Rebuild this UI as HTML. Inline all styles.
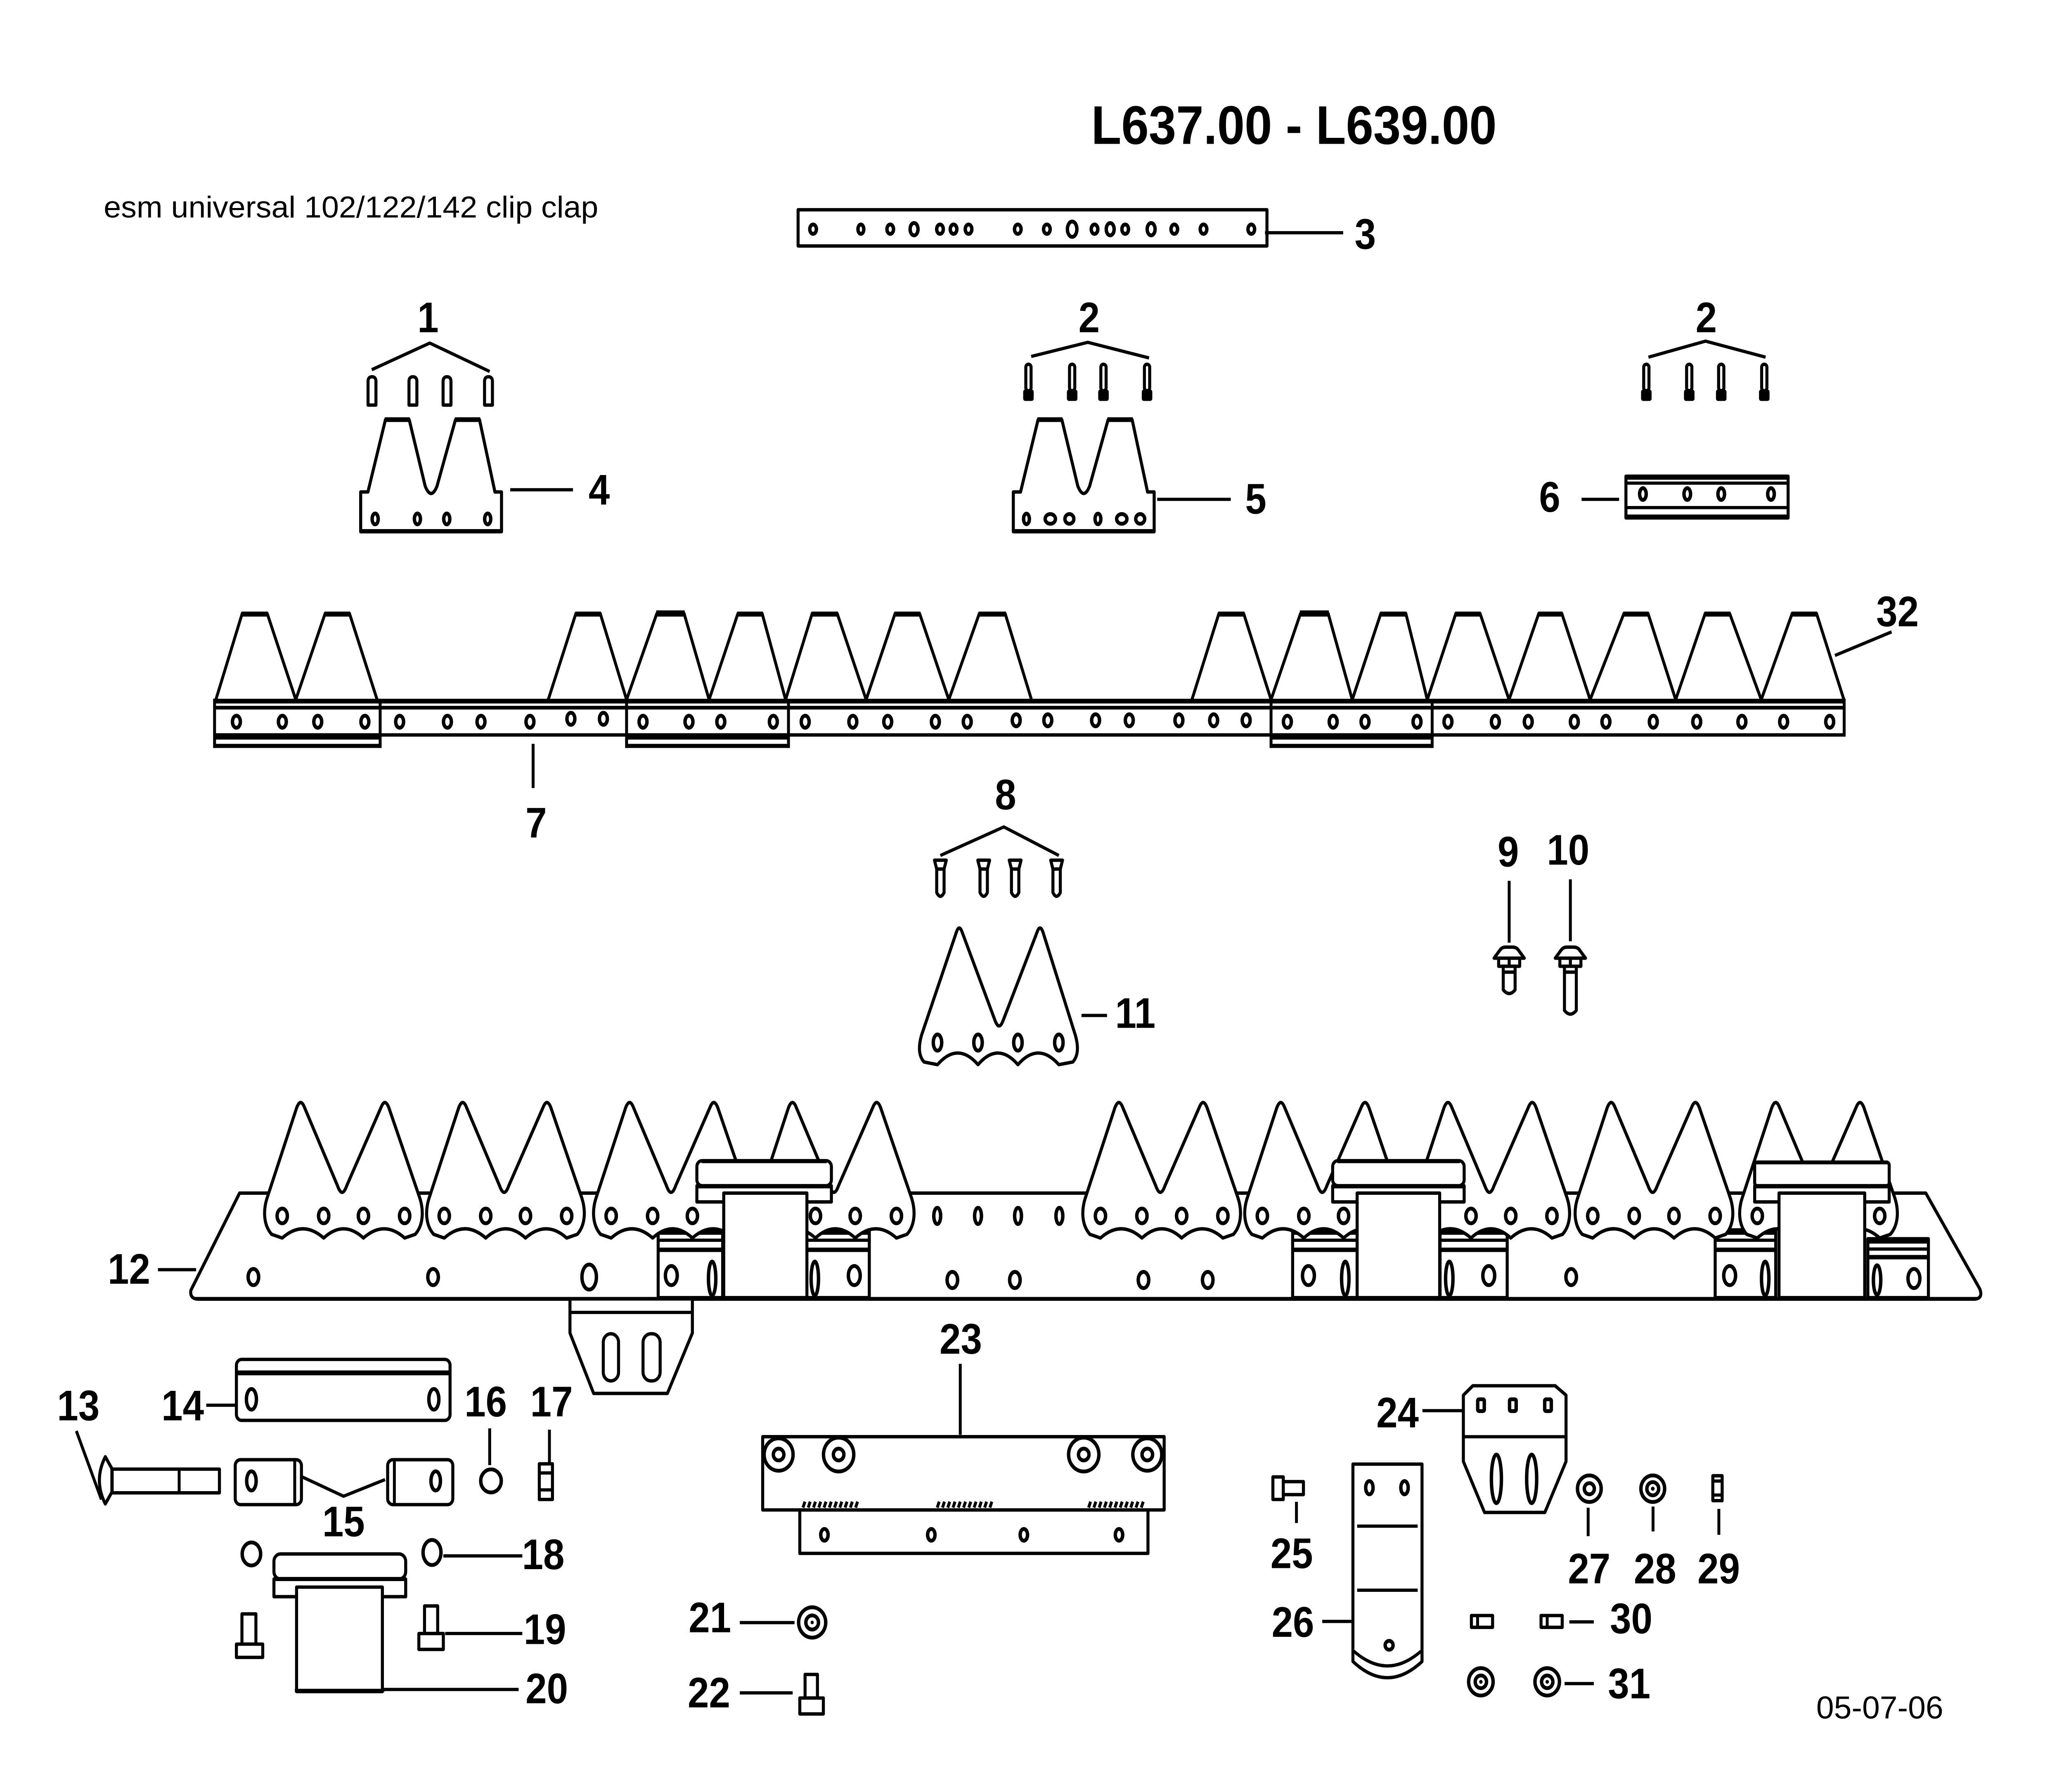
<!DOCTYPE html>
<html><head><meta charset="utf-8"><style>
html,body{margin:0;padding:0;background:#fff;width:100%;height:100%;overflow:hidden;}
svg{display:block;width:100vw;height:100vh;}
.l{fill:none;stroke:#000;stroke-width:2.2;stroke-linejoin:round}
.w{fill:#fff;stroke:#000;stroke-width:2.3;stroke-linejoin:round}
.h{fill:#fff;stroke:#000;stroke-width:2.6}
.t{font-family:"Liberation Sans",Arial,sans-serif;font-weight:bold;font-size:29px;text-anchor:middle;fill:#000}
</style></head><body>
<svg viewBox="0 0 1568 1216.6" preserveAspectRatio="none" xmlns="http://www.w3.org/2000/svg">
<rect width="1568" height="1216.6" fill="#fff"/>
<defs>
<g id="ks">
<path class="w" stroke-width="2.5" d="M3,812 L25,752 Q28,745 31,752 L56,805 Q59.5,814 63,805 L89,752 Q92,745 95,752 L118,812 C122,822 121,832 115,838 L107,840.5 Q91.4,828 75.7,840.5 Q60.6,828 45.5,840.5 Q29.7,828 14,840.5 L6,838 C0,832 -1,822 3,812 Z"/>
<ellipse class="h" stroke-width="3.3" cx="14" cy="825.5" rx="3.9" ry="5"/>
<ellipse class="h" stroke-width="3.3" cx="45.5" cy="825.5" rx="3.9" ry="5"/>
<ellipse class="h" stroke-width="3.3" cx="75.7" cy="825.5" rx="3.9" ry="5"/>
<ellipse class="h" stroke-width="3.3" cx="107" cy="825.5" rx="3.9" ry="5"/>
</g>
</defs>

<!-- Title texts -->
<text x="829" y="97.7" font-family="Liberation Sans, Arial, sans-serif" font-weight="bold" font-size="37" textLength="308" lengthAdjust="spacingAndGlyphs">L637.00 - L639.00</text>
<text x="78.8" y="147.6" font-family="Liberation Sans, Arial, sans-serif" font-size="20.5" textLength="375.7" lengthAdjust="spacingAndGlyphs">esm universal 102/122/142 clip clap</text>
<text x="1379.8" y="1166.7" font-family="Liberation Sans, Arial, sans-serif" font-size="21.5" textLength="96.5" lengthAdjust="spacingAndGlyphs">05-07-06</text>

<!-- Part 3 -->
<rect class="w" x="606.3" y="142.4" width="356.2" height="24.6" stroke-width="2.2"/>
<g class="h" stroke-width="1.9">
<ellipse cx="617.7" cy="155.6" rx="2.5" ry="3.2"/><ellipse cx="654" cy="155.6" rx="2.2" ry="3.2"/>
<ellipse cx="676.3" cy="155.6" rx="2.5" ry="3.2"/><ellipse cx="694.4" cy="155.6" rx="3" ry="4.2"/>
<ellipse cx="714.1" cy="155.6" rx="2.5" ry="3.2"/><ellipse cx="724.4" cy="155.6" rx="2.5" ry="3.2"/>
<ellipse cx="735.8" cy="155.6" rx="2.5" ry="3.2"/><ellipse cx="773.2" cy="155.6" rx="2.5" ry="3.2"/>
<ellipse cx="795.3" cy="155.6" rx="2.5" ry="3.2"/><ellipse cx="814.5" cy="155.6" rx="3.6" ry="5.2"/>
<ellipse cx="831.5" cy="155.6" rx="2.5" ry="3.2"/><ellipse cx="843.4" cy="155.6" rx="3" ry="4.2"/>
<ellipse cx="854.8" cy="155.6" rx="2.5" ry="3.2"/><ellipse cx="874.5" cy="155.6" rx="3" ry="4.2"/>
<ellipse cx="892.1" cy="155.6" rx="2.5" ry="3.2"/><ellipse cx="914.3" cy="155.6" rx="2.5" ry="3.2"/>
<ellipse cx="950.6" cy="155.6" rx="2.5" ry="3.2"/>
</g>
<line class="l" x1="961" y1="158" x2="1020.4" y2="158" stroke-width="2.4"/>
<text class="t" x="1037.2" y="168.9">3</text>

<!-- Part 1 -->
<text class="t" x="325.2" y="225.6">1</text>
<polyline class="l" points="282.4,251 326.5,232.9 372,252.2" stroke-width="2"/>
<g class="w" stroke-width="1.8">
<path d="M279.6,275 L279.6,259 Q279.6,255.8 282.6,255.8 Q285.6,255.8 285.6,259 L285.6,275 Z"/>
<path d="M310.7,275 L310.7,259 Q310.7,255.8 313.7,255.8 Q316.7,255.8 316.7,259 L316.7,275 Z"/>
<path d="M336.6,275 L336.6,259 Q336.6,255.8 339.6,255.8 Q342.6,255.8 342.6,259 L342.6,275 Z"/>
<path d="M368.1,275 L368.1,259 Q368.1,255.8 371.1,255.8 Q374.1,255.8 374.1,259 L374.1,275 Z"/>
</g>

<!-- Part 4 -->
<path class="w" stroke-width="2.2" d="M274,361 L274,334 L279.5,334 L292.8,285 L310.9,285 L323,330 Q327.5,340 332,330 L346,285 L364.3,285 L376,334 L381,334 L381,361 Z"/>
<rect x="292.3" y="283.3" width="19" height="3.2"/><rect x="345.5" y="283.3" width="19.3" height="3.2"/>
<rect x="274" y="359.2" width="107" height="2.6"/>
<g class="h" stroke-width="2">
<ellipse cx="285" cy="352.3" rx="2.3" ry="3.7"/><ellipse cx="317.1" cy="352.3" rx="2.3" ry="3.7"/>
<ellipse cx="339.4" cy="352.3" rx="2.3" ry="3.7"/><ellipse cx="370.5" cy="352.3" rx="2.3" ry="3.7"/>
</g>
<line class="l" x1="387.6" y1="332.5" x2="435.3" y2="332.5" stroke-width="2.4"/>
<text class="t" x="455.2" y="342.6">4</text>

<!-- Part 2 (middle) -->
<text class="t" x="827.4" y="225.6">2</text>
<polyline class="l" points="783.4,242 826.4,232.4 872.9,243" stroke-width="2"/>
<g>
<rect class="w" x="779.3" y="247.3" width="4" height="18" rx="2" stroke-width="1.6"/><rect x="777.3" y="264.5" width="8" height="7.7" rx="1.5"/>
<rect class="w" x="812.5" y="247.3" width="4" height="18" rx="2" stroke-width="1.6"/><rect x="810.5" y="264.5" width="8" height="7.7" rx="1.5"/>
<rect class="w" x="836.3" y="247.3" width="4" height="18" rx="2" stroke-width="1.6"/><rect x="834.3" y="264.5" width="8" height="7.7" rx="1.5"/>
<rect class="w" x="869.4" y="247.3" width="4" height="18" rx="2" stroke-width="1.6"/><rect x="867.4" y="264.5" width="8" height="7.7" rx="1.5"/>
</g>

<!-- Part 5 -->
<g transform="translate(495.8,0)">
<path class="w" stroke-width="2.2" d="M274,361 L274,334 L279.5,334 L292.8,285 L310.9,285 L323,330 Q327.5,340 332,330 L346,285 L364.3,285 L376,334 L381,334 L381,361 Z"/>
<rect x="292.3" y="283.3" width="19" height="3.2"/><rect x="345.5" y="283.3" width="19.3" height="3.2"/>
<rect x="274" y="359.2" width="107" height="2.6"/>
</g>
<g class="h" stroke-width="2">
<ellipse cx="779.8" cy="352.3" rx="2.2" ry="3.6"/><ellipse cx="797.9" cy="352.3" rx="3.9" ry="3.3"/><ellipse cx="812.4" cy="352.3" rx="3.4" ry="3.3"/>
<ellipse cx="834.1" cy="352.3" rx="2.2" ry="3.6"/><ellipse cx="852.2" cy="352.3" rx="3.9" ry="3.3"/><ellipse cx="866.2" cy="352.3" rx="3.4" ry="3.3"/>
</g>
<line class="l" x1="879.1" y1="339" x2="935" y2="339" stroke-width="2.4"/>
<text class="t" x="954" y="348.7">5</text>

<!-- Part 2 (right) -->
<text class="t" x="1296.2" y="225.6">2</text>
<polyline class="l" points="1252.3,242.5 1295.7,231.6 1341.3,242.5" stroke-width="2"/>
<g>
<rect class="w" x="1248.7" y="247.3" width="4" height="18" rx="2" stroke-width="1.6"/><rect x="1246.7" y="264.5" width="8" height="7.7" rx="1.5"/>
<rect class="w" x="1281.3" y="247.3" width="4" height="18" rx="2" stroke-width="1.6"/><rect x="1279.3" y="264.5" width="8" height="7.7" rx="1.5"/>
<rect class="w" x="1305.6" y="247.3" width="4" height="18" rx="2" stroke-width="1.6"/><rect x="1303.6" y="264.5" width="8" height="7.7" rx="1.5"/>
<rect class="w" x="1338.3" y="247.3" width="4" height="18" rx="2" stroke-width="1.6"/><rect x="1336.3" y="264.5" width="8" height="7.7" rx="1.5"/>
</g>

<!-- Part 6 -->
<rect class="w" x="1235.2" y="323.3" width="123.2" height="28.3" stroke-width="2.2"/>
<rect x="1235.2" y="322.5" width="123.2" height="3.2"/>
<line class="l" x1="1235.2" y1="328" x2="1358.4" y2="328" stroke-width="2"/>
<line class="l" x1="1235.2" y1="344.6" x2="1358.4" y2="344.6" stroke-width="2.2"/>
<rect x="1235.2" y="349.3" width="123.2" height="3"/>
<g class="h" stroke-width="2">
<ellipse cx="1248.1" cy="335.4" rx="2.5" ry="4"/><ellipse cx="1281.8" cy="335.4" rx="2.5" ry="4"/>
<ellipse cx="1307.6" cy="335.4" rx="2.5" ry="4"/><ellipse cx="1345.4" cy="335.4" rx="2.5" ry="4"/>
</g>
<line class="l" x1="1201.5" y1="339" x2="1230" y2="339" stroke-width="2.4"/>
<text class="t" x="1177.3" y="347.5">6</text>

<!-- Knife bar 32 / 7 -->
<path class="l" stroke-width="2" d="M164,475 L184,416.5 L203,416.5 L224.7,475 L247,416.5 L265.5,416.5 L286.5,475"/>
<path class="l" stroke-width="2" d="M416.5,475 L437.5,416.5 L456,416.5 L476,475 L499,416.5 L519.7,416.5 L538.7,475 L560.6,416.5 L579,416.5 L596.8,475 L617,416.5 L636,416.5 L658,475 L680,416.5 L698.6,416.5 L720.8,475 L744,416.5 L763.6,416.5 L783.6,475"/>
<path class="l" stroke-width="2" d="M905.5,475 L926,416.5 L944.8,416.5 L965.6,475 L988,416.5 L1009,416.5 L1027.3,475 L1049,416.5 L1068,416.5 L1084.3,475 L1106,416.5 L1124.4,416.5 L1146.4,475 L1169,416.5 L1186.5,416.5 L1208,475 L1233.7,416.5 L1252,416.5 L1273,475 L1295.4,416.5 L1314,416.5 L1338,475 L1361.5,416.5 L1380,416.5 L1400.8,475"/>
<g>
<rect x="183.5" y="415.2" width="20" height="3.4"/><rect x="246.5" y="415.2" width="19.5" height="3.4"/>
<rect x="437" y="415.2" width="19.5" height="3.4"/><rect x="498.5" y="414.4" width="21.7" height="4.2"/>
<rect x="560.1" y="415.2" width="19.4" height="3.4"/><rect x="616.5" y="415.2" width="20" height="3.4"/>
<rect x="679.5" y="415.2" width="19.6" height="3.4"/><rect x="743.5" y="415.2" width="20.6" height="3.4"/>
<rect x="925.5" y="415.2" width="19.8" height="3.4"/><rect x="987.5" y="414.4" width="22" height="4.2"/>
<rect x="1048.5" y="415.2" width="20" height="3.4"/><rect x="1105.5" y="415.2" width="19.4" height="3.4"/>
<rect x="1168.5" y="415.2" width="18.5" height="3.4"/><rect x="1233.2" y="415.2" width="19.3" height="3.4"/>
<rect x="1294.9" y="415.2" width="19.6" height="3.4"/><rect x="1361" y="415.2" width="19.5" height="3.4"/>
</g>
<rect x="162" y="474.4" width="1240" height="3.2"/>
<rect x="162" y="479.2" width="1240" height="2.5"/>
<rect x="162" y="497.8" width="1240" height="2.3"/>
<rect x="162" y="497.8" width="126.8" height="4.3"/><rect x="162" y="505" width="126.8" height="2.8"/>
<rect x="476" y="497.8" width="123" height="4.3"/><rect x="476" y="505" width="123" height="2.8"/>
<rect x="965.6" y="497.8" width="122.4" height="4.3"/><rect x="965.6" y="505" width="122.4" height="2.8"/>
<g class="l" stroke-width="2">
<line x1="163" y1="474.4" x2="163" y2="507.8"/><line x1="288.8" y1="474.4" x2="288.8" y2="507.8"/>
<line x1="476" y1="474.4" x2="476" y2="507.8"/><line x1="599" y1="474.4" x2="599" y2="507.8"/>
<line x1="965.6" y1="474.4" x2="965.6" y2="507.8"/><line x1="1088" y1="474.4" x2="1088" y2="507.8"/>
<line x1="1401" y1="474.4" x2="1401" y2="500"/>
</g>
<g class="h" stroke-width="2.7">
<ellipse cx="179.6" cy="490" rx="3" ry="4.1"/><ellipse cx="214.5" cy="490" rx="3" ry="4.1"/><ellipse cx="241.4" cy="490" rx="3" ry="4.1"/><ellipse cx="277.2" cy="490" rx="3" ry="4.1"/>
<ellipse cx="303.6" cy="490" rx="3" ry="4.1"/><ellipse cx="339.9" cy="490" rx="3" ry="4.1"/><ellipse cx="365.4" cy="490" rx="3" ry="4.1"/><ellipse cx="402.6" cy="490" rx="3" ry="4.1"/><ellipse cx="433.7" cy="488" rx="3" ry="4.1"/><ellipse cx="458.4" cy="488" rx="3" ry="4.1"/>
<ellipse cx="488.5" cy="490" rx="3" ry="4.1"/><ellipse cx="523.4" cy="490" rx="3" ry="4.1"/><ellipse cx="547.6" cy="490" rx="3" ry="4.1"/><ellipse cx="587.5" cy="490" rx="3" ry="4.1"/>
<ellipse cx="611.7" cy="490" rx="3" ry="4.1"/><ellipse cx="647.9" cy="490" rx="3" ry="4.1"/><ellipse cx="674.4" cy="490" rx="3" ry="4.1"/><ellipse cx="710.6" cy="490" rx="3" ry="4.1"/><ellipse cx="734.8" cy="490" rx="3" ry="4.1"/><ellipse cx="772" cy="489" rx="3" ry="4.1"/><ellipse cx="796" cy="489" rx="3" ry="4.1"/><ellipse cx="832.3" cy="489" rx="3" ry="4.1"/><ellipse cx="857.9" cy="489" rx="3" ry="4.1"/><ellipse cx="895.6" cy="489" rx="3" ry="4.1"/><ellipse cx="922" cy="489" rx="3" ry="4.1"/><ellipse cx="946.7" cy="489" rx="3" ry="4.1"/>
<ellipse cx="978" cy="490" rx="3" ry="4.1"/><ellipse cx="1012.8" cy="490" rx="3" ry="4.1"/><ellipse cx="1037" cy="490" rx="3" ry="4.1"/><ellipse cx="1076.5" cy="490" rx="3" ry="4.1"/>
<ellipse cx="1100" cy="490" rx="3" ry="4.1"/><ellipse cx="1136" cy="490" rx="3" ry="4.1"/><ellipse cx="1161" cy="490" rx="3" ry="4.1"/><ellipse cx="1196" cy="490" rx="3" ry="4.1"/><ellipse cx="1220" cy="490" rx="3" ry="4.1"/><ellipse cx="1256" cy="490" rx="3" ry="4.1"/><ellipse cx="1289" cy="490" rx="3" ry="4.1"/><ellipse cx="1323.3" cy="490" rx="3" ry="4.1"/><ellipse cx="1355" cy="490" rx="3" ry="4.1"/><ellipse cx="1390" cy="490" rx="3" ry="4.1"/>
</g>
<line class="l" x1="1394" y1="445" x2="1437" y2="429" stroke-width="3"/>
<text class="t" x="1441.5" y="425.2">32</text>
<line class="l" x1="405" y1="505" x2="405" y2="535" stroke-width="2"/>
<text class="t" x="407.3" y="568.6">7</text>

<!-- Part 8 -->
<text class="t" x="763.9" y="549.5">8</text>
<polyline class="l" points="714.4,580.8 762.6,561.4 804.4,580.8" stroke-width="2"/>
<g class="w" stroke-width="1.8">
<path d="M709.9,584 L718.9,584 L717.2,590 L711.6,590 Z"/><path d="M711.6,590 L717.2,590 L717.2,606 Q714.4,611 711.6,606 Z"/>
<path d="M742.8,584 L751.8,584 L750.1,590 L744.5,590 Z"/><path d="M744.5,590 L750.1,590 L750.1,606 Q747.3,611 744.5,606 Z"/>
<path d="M766.7,584 L775.7,584 L774,590 L768.4,590 Z"/><path d="M768.4,590 L774,590 L774,606 Q771.2,611 768.4,606 Z"/>
<path d="M798.2,584 L807.2,584 L805.5,590 L799.9,590 Z"/><path d="M799.9,590 L805.5,590 L805.5,606 Q802.7,611 799.9,606 Z"/>
</g>

<!-- Part 11 -->
<path class="w" stroke-width="2.2" d="M700,703 L726.5,633 Q728.7,627 731,633 L756,693 Q759,700 762,693 L787.8,633 Q790.1,627 792.4,633 L817,703 C819.5,711 819,717 815,721 L804.4,722.8 Q788.7,707 773.3,722.8 Q758,707 743,722.8 Q727.6,707 712.2,722.8 L702,721 C698,717 697.5,711 700,703 Z"/>
<g class="h" stroke-width="3">
<ellipse cx="712.2" cy="707.8" rx="3.2" ry="5.5"/><ellipse cx="743" cy="707.8" rx="3.2" ry="5.5"/>
<ellipse cx="773.3" cy="707.8" rx="3.2" ry="5.5"/><ellipse cx="804.4" cy="707.8" rx="3.2" ry="5.5"/>
</g>
<line class="l" x1="821.6" y1="689.4" x2="841" y2="689.4" stroke-width="2.4"/>
<text class="t" x="862.5" y="697.8">11</text>

<!-- Parts 9,10 -->
<text class="t" x="1145.8" y="588.3">9</text>
<text class="t" x="1191.3" y="587">10</text>
<line class="l" x1="1146.5" y1="598" x2="1146.5" y2="640" stroke-width="2"/>
<line class="l" x1="1193" y1="597" x2="1193" y2="639" stroke-width="2"/>
<g class="w" stroke-width="2.2">
<path d="M1135,650.5 L1139.5,645 Q1141,643 1144,643 L1149,643 Q1152,643 1153.5,645 L1158,650.5 Z"/>
<rect x="1138.5" y="650.5" width="16" height="5.5"/><line x1="1146.5" y1="650.5" x2="1146.5" y2="656"/>
<path d="M1142,656 L1151,656 L1151,672 Q1146.5,677 1142,672 Z"/><line x1="1142" y1="660" x2="1151" y2="660"/>
<path d="M1181.5,650.5 L1186,645 Q1187.5,643 1190.5,643 L1195.5,643 Q1198.5,643 1200,645 L1204.5,650.5 Z"/>
<rect x="1185" y="650.5" width="16" height="5.5"/><line x1="1193" y1="650.5" x2="1193" y2="656"/>
<path d="M1188.5,656 L1197.5,656 L1197.5,686 Q1193,691 1188.5,686 Z"/><line x1="1188.5" y1="660" x2="1197.5" y2="660"/>
</g>

<!-- Assembly 12 -->
<path class="w" stroke-width="3" d="M182,810 L1463,810 L1504,875 Q1507,882 1499,882 L151,882 Q144,882 145,876 Z"/>
<line class="l" x1="148" y1="881.6" x2="1502" y2="881.6" stroke-width="3.6"/>
<g class="h" stroke-width="2.7">
<ellipse cx="712" cy="825.5" rx="2.6" ry="5.5"/><ellipse cx="743" cy="825.5" rx="2.6" ry="5.5"/>
<ellipse cx="773.4" cy="825.5" rx="2.6" ry="5.5"/><ellipse cx="804.8" cy="825.5" rx="2.6" ry="5.5"/>
</g>
<g class="h" stroke-width="3.2">
<ellipse cx="192.5" cy="867" rx="4" ry="5.5"/><ellipse cx="329" cy="867" rx="4" ry="5.5"/>
<ellipse cx="447.6" cy="867" rx="5.5" ry="8.5"/>
<ellipse cx="723.5" cy="869" rx="4" ry="5.5"/><ellipse cx="771" cy="869" rx="4" ry="5.5"/>
<ellipse cx="868.7" cy="869" rx="4" ry="5.5"/><ellipse cx="917.5" cy="869" rx="4" ry="5.5"/>
<ellipse cx="1193.6" cy="867" rx="4" ry="5.5"/>
</g>
<!-- blocks -->
<g>
<rect class="w" x="500" y="835" width="49" height="46" stroke-width="2.5"/><rect x="500" y="835" width="49" height="3.3"/><line class="l" x1="500" y1="842" x2="549" y2="842" stroke-width="2"/><rect x="500" y="847" width="49" height="3"/>
<ellipse class="h" stroke-width="3.5" cx="510" cy="866" rx="4.5" ry="6.5"/><ellipse class="h" stroke-width="2" cx="541" cy="868" rx="2.8" ry="11.5"/>
<rect class="w" x="611.6" y="835" width="48.8" height="46" stroke-width="2.5"/><rect x="611.6" y="835" width="48.8" height="3.3"/><line class="l" x1="611.6" y1="842" x2="660.4" y2="842" stroke-width="2"/><rect x="611.6" y="847" width="48.8" height="3"/>
<ellipse class="h" stroke-width="3.5" cx="649" cy="866" rx="4.5" ry="6.5"/><ellipse class="h" stroke-width="2" cx="619" cy="868" rx="2.8" ry="11.5"/>
<rect class="w" x="982" y="835" width="49" height="46" stroke-width="2.5"/><rect x="982" y="835" width="49" height="3.3"/><line class="l" x1="982" y1="842" x2="1031" y2="842" stroke-width="2"/><rect x="982" y="847" width="49" height="3"/>
<ellipse class="h" stroke-width="3.5" cx="994" cy="866" rx="4.5" ry="6.5"/><ellipse class="h" stroke-width="2" cx="1022" cy="868" rx="2.8" ry="11.5"/>
<rect class="w" x="1094" y="835" width="51" height="46" stroke-width="2.5"/><rect x="1094" y="835" width="51" height="3.3"/><line class="l" x1="1094" y1="842" x2="1145" y2="842" stroke-width="2"/><rect x="1094" y="847" width="51" height="3"/>
<ellipse class="h" stroke-width="3.5" cx="1131" cy="866" rx="4.5" ry="6.5"/><ellipse class="h" stroke-width="2" cx="1101" cy="868" rx="2.8" ry="11.5"/>
<rect class="w" x="1303" y="835" width="46" height="46" stroke-width="2.5"/><rect x="1303" y="835" width="46" height="3.3"/><line class="l" x1="1303" y1="842" x2="1349" y2="842" stroke-width="2"/><rect x="1303" y="847" width="46" height="3"/>
<ellipse class="h" stroke-width="3.5" cx="1314" cy="866" rx="4.5" ry="6.5"/><ellipse class="h" stroke-width="2" cx="1341" cy="868" rx="2.8" ry="11.5"/>
<rect class="w" x="1419" y="841" width="46" height="40" stroke-width="2.5"/><rect x="1419" y="841" width="46" height="3.3"/><line class="l" x1="1419" y1="848" x2="1465" y2="848" stroke-width="2"/><rect x="1419" y="852" width="46" height="3"/>
<ellipse class="h" stroke-width="3.5" cx="1454" cy="868" rx="4.5" ry="6.5"/><ellipse class="h" stroke-width="2" cx="1426" cy="869" rx="2.8" ry="10"/>
</g>
<!-- knife sections -->
<use href="#ks" x="200.4"/>
<use href="#ks" x="323.5"/>
<use href="#ks" x="450.3"/>
<use href="#ks" x="574"/>
<use href="#ks" x="822"/>
<use href="#ks" x="945"/>
<use href="#ks" x="1072"/>
<use href="#ks" x="1196"/>
<use href="#ks" x="1321"/>
<!-- clips -->
<g>
<rect class="w" x="529.4" y="805" width="102.2" height="11" stroke-width="2.6"/>
<rect class="w" x="549.8" y="810" width="63.2" height="71" stroke-width="2.8"/>
<rect class="w" x="529.4" y="788" width="102.2" height="17" rx="4" stroke-width="2.8"/>
<line class="l" x1="533" y1="788.6" x2="628" y2="788.6" stroke-width="3.4"/>
<rect x="529.4" y="804" width="102.2" height="2.8"/>
<rect class="w" x="1012.4" y="805" width="99.9" height="11" stroke-width="2.6"/>
<rect class="w" x="1031" y="810" width="62.7" height="71" stroke-width="2.8"/>
<rect class="w" x="1012.4" y="788" width="99.9" height="17" rx="4" stroke-width="2.8"/>
<line class="l" x1="1016" y1="788.6" x2="1109" y2="788.6" stroke-width="3.4"/>
<rect x="1012.4" y="804" width="99.9" height="2.8"/>
<rect class="w" x="1333" y="805" width="102.2" height="11" stroke-width="2.6"/>
<rect class="w" x="1351.5" y="810" width="65.1" height="71" stroke-width="2.8"/>
<rect class="w" x="1333" y="789" width="102.2" height="16" rx="2" stroke-width="2.8"/>
<line class="l" x1="1334" y1="789.4" x2="1434" y2="789.4" stroke-width="3.6"/>
<rect x="1333" y="804" width="102.2" height="2.8"/>
</g>
<!-- under bracket -->
<path class="w" stroke-width="2.6" d="M433,883 L433,905 L451,946 L507,946 L526,905 L526,883"/>
<line class="l" x1="433" y1="891" x2="526" y2="891" stroke-width="2.8"/>
<rect class="w" x="458.3" y="905.5" width="11.6" height="32" rx="5.8" stroke-width="2.6"/>
<rect class="w" x="488.5" y="905.5" width="13" height="32" rx="6" stroke-width="2.6"/>
<line class="l" x1="120" y1="862" x2="149" y2="862" stroke-width="2.2"/>
<text class="t" x="98" y="871.5">12</text>

<!-- Part 13 -->
<text class="t" x="59.5" y="964.3">13</text>
<line class="l" x1="58" y1="971.5" x2="77" y2="1018" stroke-width="2"/>
<path class="w" stroke-width="2.2" d="M80,989 Q71,1005 80,1021 L85,1013 L85,997 Z"/>
<rect class="w" x="85.2" y="997.4" width="81.5" height="16.1" stroke-width="2.5"/>
<line class="l" x1="136.1" y1="997.4" x2="136.1" y2="1013.5" stroke-width="2.2"/>
<!-- Part 14 -->
<text class="t" x="138.8" y="964.3">14</text>
<line class="l" x1="156.7" y1="954" x2="179.6" y2="954" stroke-width="2.2"/>
<rect class="w" x="179.6" y="922.9" width="162.3" height="41.4" rx="4" stroke-width="2.5"/>
<rect x="180.5" y="930.4" width="160.5" height="3.3"/>
<ellipse class="h" stroke-width="3" cx="191" cy="950" rx="3.8" ry="7"/>
<ellipse class="h" stroke-width="3" cx="329.6" cy="950" rx="3.8" ry="7"/>
<!-- Part 15 -->
<rect class="w" x="178.7" y="991" width="50.3" height="30.5" rx="4" stroke-width="2.6"/>
<line class="l" x1="223.9" y1="992" x2="223.9" y2="1020.5"/>
<ellipse class="h" stroke-width="3" cx="191" cy="1005.4" rx="3.6" ry="6.5"/>
<rect class="w" x="294.5" y="991" width="49.5" height="30.5" rx="4" stroke-width="2.6"/>
<line class="l" x1="299.6" y1="992" x2="299.6" y2="1020.5"/>
<ellipse class="h" stroke-width="3" cx="331" cy="1005.4" rx="3.6" ry="6.5"/>
<polyline class="l" points="229.6,1002.7 261,1015.8 292.5,1004.5" stroke-width="2"/>
<text class="t" x="261" y="1043">15</text>
<!-- 16, 17 -->
<text class="t" x="369" y="961.6">16</text>
<text class="t" x="419" y="961.6">17</text>
<line class="l" x1="372" y1="969.7" x2="372" y2="994.7" stroke-width="2"/>
<line class="l" x1="417.4" y1="970.6" x2="417.4" y2="993" stroke-width="2"/>
<circle class="h" cx="373" cy="1005.4" r="7.8" stroke-width="5.4"/>
<rect class="w" x="409.7" y="993.8" width="10" height="24.2" stroke-width="2.5"/>
<line class="l" x1="409.7" y1="1000" x2="419.7" y2="1000" stroke-width="2"/>
<line class="l" x1="409.7" y1="1011.5" x2="419.7" y2="1011.5" stroke-width="2"/>
<!-- 18 -->
<ellipse class="h" stroke-width="3.4" cx="191" cy="1055" rx="7" ry="7.8"/>
<ellipse class="h" stroke-width="5" cx="328.2" cy="1054" rx="6.8" ry="8.5"/>
<line class="l" x1="336.8" y1="1056.3" x2="396.8" y2="1056.3" stroke-width="2.4"/>
<text class="t" x="412.7" y="1065.3">18</text>
<!-- 20 -->
<rect class="w" x="208.1" y="1072" width="100.1" height="12" stroke-width="2.6"/>
<rect class="w" x="225.3" y="1077.5" width="65.2" height="70.9" stroke-width="2.8"/>
<rect class="w" x="208.1" y="1055" width="100.1" height="17" rx="5" stroke-width="2.8"/>
<rect x="208.1" y="1070.6" width="100.1" height="2.8"/>
<line class="l" x1="224" y1="1147.6" x2="292" y2="1147.6" stroke-width="3"/>
<line class="l" x1="290.5" y1="1147" x2="394" y2="1147" stroke-width="2.4"/>
<text class="t" x="415.4" y="1156.4">20</text>
<!-- 19 -->
<rect class="w" x="183.8" y="1095.7" width="10.6" height="20.5" stroke-width="2.2"/>
<rect class="w" x="179.6" y="1116.2" width="20" height="9" stroke-width="2.8"/>
<rect class="w" x="322.5" y="1090.3" width="10" height="18.7" stroke-width="2.2"/>
<rect class="w" x="318.2" y="1109" width="18.6" height="10.8" stroke-width="2.8"/>
<line class="l" x1="338.2" y1="1109" x2="396.8" y2="1109" stroke-width="2.4"/>
<text class="t" x="414" y="1116.2">19</text>

<!-- 21, 22 -->
<text class="t" x="539.3" y="1108.2">21</text>
<line class="l" x1="562" y1="1101.6" x2="603.6" y2="1101.6" stroke-width="2.4"/>
<circle class="h" cx="617" cy="1101.5" r="10.3" stroke-width="2.4"/>
<circle class="h" cx="617" cy="1101.5" r="4.8" stroke-width="2.6"/>
<circle cx="617" cy="1101.5" r="1.2"/>
<text class="t" x="538.6" y="1159.1">22</text>
<line class="l" x1="562" y1="1149.3" x2="602.2" y2="1149.3" stroke-width="2.4"/>
<rect class="w" x="611.6" y="1136.8" width="9.4" height="16" stroke-width="2.2"/>
<rect class="w" x="607.6" y="1152.8" width="17.9" height="10.8" stroke-width="2.6"/>

<!-- 23 -->
<text class="t" x="729.9" y="919.1">23</text>
<line class="l" x1="729.5" y1="925.9" x2="729.5" y2="974.1" stroke-width="2.2"/>
<rect class="w" x="607.6" y="1025.1" width="264.5" height="29.5" stroke-width="2.5"/>
<rect class="w" x="579.4" y="975.4" width="305" height="49.7" stroke-width="2.5"/>
<g class="h" stroke-width="1.8">
<circle cx="591.5" cy="987.5" r="11"/><circle cx="637.1" cy="987.5" r="11.5"/>
<circle cx="823.3" cy="987.5" r="11.5"/><circle cx="871.6" cy="987.5" r="11"/>
</g>
<g class="h" stroke-width="3">
<circle cx="591.5" cy="987.5" r="4"/><circle cx="637.1" cy="987.5" r="4"/>
<circle cx="823.3" cy="987.5" r="4"/><circle cx="871.6" cy="987.5" r="4"/>
</g>
<g class="l" stroke-width="1.4">
<path d="M610,1023.5l1.5,-4 M614,1023.5l1.5,-4 M618,1023.5l1.5,-4 M622,1023.5l1.5,-4 M626,1023.5l1.5,-4 M630,1023.5l1.5,-4 M634,1023.5l1.5,-4 M638,1023.5l1.5,-4 M642,1023.5l1.5,-4 M646,1023.5l1.5,-4 M650,1023.5l1.5,-4"/>
<path d="M712,1023.5l1.5,-4 M716,1023.5l1.5,-4 M720,1023.5l1.5,-4 M724,1023.5l1.5,-4 M728,1023.5l1.5,-4 M732,1023.5l1.5,-4 M736,1023.5l1.5,-4 M740,1023.5l1.5,-4 M744,1023.5l1.5,-4 M748,1023.5l1.5,-4 M752,1023.5l1.5,-4"/>
<path d="M827,1023.5l1.5,-4 M831,1023.5l1.5,-4 M835,1023.5l1.5,-4 M839,1023.5l1.5,-4 M843,1023.5l1.5,-4 M847,1023.5l1.5,-4 M851,1023.5l1.5,-4 M855,1023.5l1.5,-4 M859,1023.5l1.5,-4 M863,1023.5l1.5,-4 M867,1023.5l1.5,-4"/>
</g>
<g class="h" stroke-width="2.5">
<ellipse cx="626.3" cy="1042" rx="2.8" ry="4"/><ellipse cx="707.5" cy="1042" rx="2.8" ry="4"/>
<ellipse cx="777.8" cy="1042" rx="2.8" ry="4"/><ellipse cx="850.1" cy="1042" rx="2.8" ry="4"/>
</g>

<!-- 24 -->
<text class="t" x="1061.7" y="969">24</text>
<line class="l" x1="1080.6" y1="957.7" x2="1111.7" y2="957.7" stroke-width="2.4"/>
<path class="w" stroke-width="2.4" d="M1118.9,940.8 L1181.4,940.8 L1189.7,947.2 L1189.7,992.2 L1173.6,1026.8 L1127.8,1026.8 L1111.7,992.2 L1111.7,947.2 Z"/>
<line class="l" x1="1111.7" y1="975.4" x2="1189.7" y2="975.4" stroke-width="2.8"/>
<g class="h" stroke-width="2.4">
<rect x="1122.6" y="950" width="5" height="8" rx="1"/><rect x="1146.8" y="950" width="5" height="8" rx="1"/><rect x="1173.5" y="950" width="5" height="8" rx="1"/>
<ellipse cx="1136.8" cy="1004" rx="3.8" ry="16.5"/><ellipse cx="1163.6" cy="1004" rx="3.8" ry="16.5"/>
</g>
<!-- 25 -->
<rect class="w" x="967" y="1002.7" width="7.9" height="15.3" stroke-width="2.3"/>
<rect class="w" x="974.9" y="1005.9" width="15.3" height="8.8" stroke-width="2.2"/>
<line class="l" x1="984.9" y1="1019.6" x2="984.9" y2="1034" stroke-width="2"/>
<text class="t" x="981.3" y="1064.6">25</text>
<!-- 26 -->
<path class="w" stroke-width="2.4" d="M1027.8,994 L1080.3,994 L1080.3,1128 Q1054,1150 1027.8,1128 Z"/>
<path class="l" stroke-width="2.2" d="M1028.5,1121 Q1054,1141 1079.5,1121"/>
<line class="l" x1="1031" y1="1036.1" x2="1077" y2="1036.1" stroke-width="3"/>
<line class="l" x1="1031" y1="1079.6" x2="1077" y2="1079.6" stroke-width="3"/>
<ellipse class="h" stroke-width="2" cx="1040.3" cy="1010" rx="2.8" ry="4.5"/>
<ellipse class="h" stroke-width="2" cx="1067" cy="1010" rx="2.8" ry="4.5"/>
<circle class="h" stroke-width="2" cx="1055.3" cy="1117" r="3"/>
<line class="l" x1="1004.5" y1="1100.8" x2="1027.8" y2="1100.8" stroke-width="2.4"/>
<text class="t" x="982.2" y="1111.2">26</text>
<!-- 27,28,29 -->
<circle class="h" cx="1207.4" cy="1010.7" r="9" stroke-width="2.2"/><circle class="h" cx="1207.4" cy="1010.7" r="3.8" stroke-width="2.6"/>
<circle class="h" cx="1255.6" cy="1010.7" r="9" stroke-width="2.2"/><circle class="h" cx="1255.6" cy="1010.7" r="4.5" stroke-width="2"/><circle cx="1255.6" cy="1010.7" r="1.4"/>
<rect class="w" x="1301.2" y="1001.9" width="7.1" height="16.9" stroke-width="2.2"/>
<line class="l" x1="1301.2" y1="1005.5" x2="1308.3" y2="1005.5" stroke-width="1.6"/>
<line class="l" x1="1301.2" y1="1015" x2="1308.3" y2="1015" stroke-width="1.6"/>
<line class="l" x1="1206.5" y1="1023.6" x2="1206.5" y2="1042.9" stroke-width="2"/>
<line class="l" x1="1255.8" y1="1022.8" x2="1255.8" y2="1039.7" stroke-width="2"/>
<line class="l" x1="1305.8" y1="1024.4" x2="1305.8" y2="1042" stroke-width="2"/>
<text class="t" x="1207.3" y="1075">27</text>
<text class="t" x="1257.3" y="1075">28</text>
<text class="t" x="1305.7" y="1075">29</text>
<!-- 30 -->
<rect class="w" x="1117.8" y="1096.8" width="16.1" height="8" stroke-width="2.5"/>
<line class="l" x1="1122.5" y1="1096.8" x2="1122.5" y2="1104.8" stroke-width="1.8"/>
<rect class="w" x="1170.7" y="1096.8" width="16.1" height="8" stroke-width="2.5"/>
<line class="l" x1="1175.4" y1="1096.8" x2="1175.4" y2="1104.8" stroke-width="1.8"/>
<line class="l" x1="1192.2" y1="1101.1" x2="1210.8" y2="1101.1" stroke-width="2.4"/>
<text class="t" x="1239.2" y="1108.8">30</text>
<!-- 31 -->
<circle class="h" cx="1125" cy="1141.8" r="9.3" stroke-width="2.4"/><circle class="h" cx="1125" cy="1141.8" r="4.3" stroke-width="2.2"/><circle cx="1125" cy="1141.8" r="1.3"/>
<circle class="h" cx="1175.4" cy="1141.8" r="9.3" stroke-width="2.4"/><circle class="h" cx="1175.4" cy="1141.8" r="4.3" stroke-width="2.2"/><circle cx="1175.4" cy="1141.8" r="1.3"/>
<line class="l" x1="1188.6" y1="1143" x2="1210.8" y2="1143" stroke-width="2.4"/>
<text class="t" x="1237.7" y="1153">31</text>
</svg>
</body></html>
